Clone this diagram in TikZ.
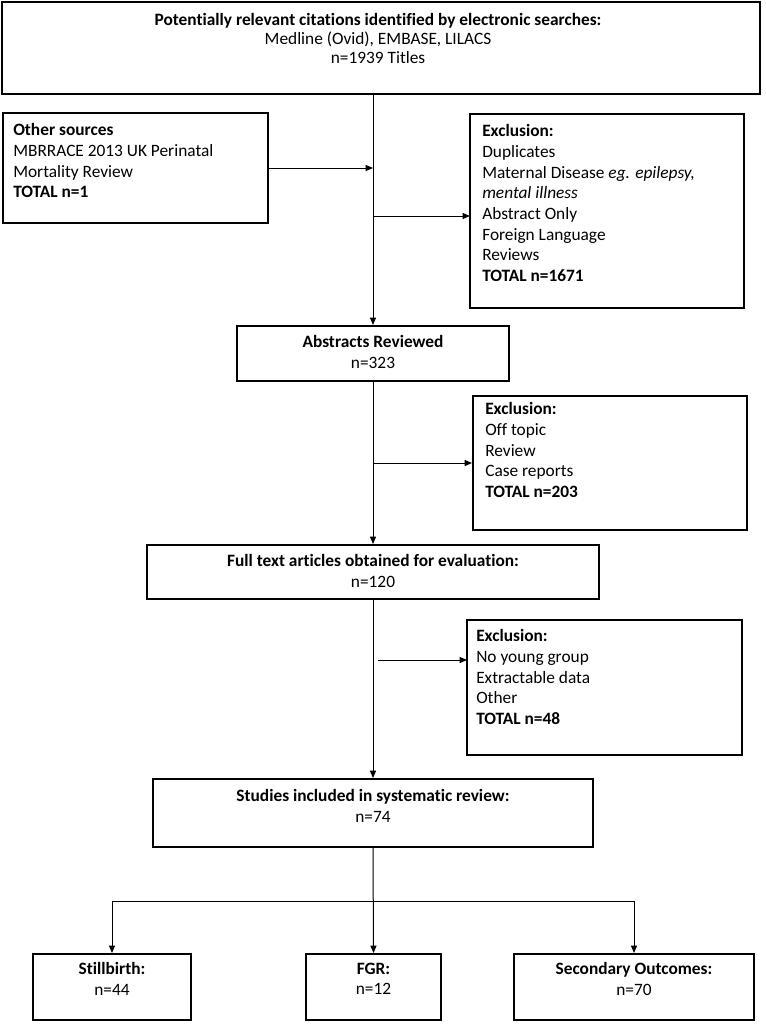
\documentclass[tikz,border=0pt]{standalone}
\usepackage{fontspec}
\setmainfont{Carlito}[Ligatures=NoCommon]
\usetikzlibrary{arrows.meta}
\usetikzlibrary{positioning}
\usetikzlibrary{fit}

\tikzset{
    box/.style={draw, line width=1.5pt, inner sep=0pt},
    txt/.style={inner sep=0pt, anchor=north west, align=left, font=\fontsize{13}{15.5}\selectfont},
    ctxt/.style={txt, anchor=north, align=center},
    link/.style={-{Triangle[length=5.5pt, width=4.5pt]}, line width=0.75pt},
}

\begin{document}
\begin{tikzpicture}[x=0.75pt, y=-0.75pt]
    \useasboundingbox (0,0) rectangle (766,1035);

    % boxes
    \node[box, fit={(2,2) (760,94)}] (top) {};
    \node[box, fit={(3,113) (268,223)}] (other) {};
    \node[box, fit={(470,114) (744,308)}] (exa) {};
    \node[box, fit={(237,326) (509,381)}] (abst) {};
    \node[box, fit={(473,396) (747,530)}] (exb) {};
    \node[box, fit={(147,545) (599,599)}] (full) {};
    \node[box, fit={(467,620) (742,755)}] (exc) {};
    \node[box, fit={(153,779) (593,847)}] (incl) {};
    \node[box, fit={(33,954) (191,1020)}] (still) {};
    \node[box, fit={(306,954) (441,1020)}] (fgr) {};
    \node[box, fit={(514,954) (754,1020)}] (second) {};

    % texts
    \node[ctxt, font=\fontsize{13}{14.2}\selectfont] (topT) at (378,13.5) {\textbf{Potentially relevant citations identified by electronic searches:}\\Medline (Ovid), EMBASE, LILACS\\n=1939 Titles};
    \node[txt] (otherT) at (13,123.5) {\textbf{Other sources}\\MBRRACE 2013 UK Perinatal\\Mortality Review\\\textbf{TOTAL n=1}};
    \node[txt] (exaT) at (482,124.5) {\textbf{Exclusion:}\\Duplicates\\Maternal Disease \textit{eg. epilepsy,}\\\textit{mental illness}\\Abstract Only\\Foreign Language\\Reviews\\\textbf{TOTAL n=1671}};
    \node[ctxt] (abstT) at (373,335.5) {\textbf{Abstracts Reviewed}\\n=323};
    \node[txt] (exbT) at (485,402.5) {\textbf{Exclusion:}\\Off topic\\Review\\Case reports\\\textbf{TOTAL n=203}};
    \node[ctxt] (fullT) at (373,554.5) {\textbf{Full text articles obtained for evaluation:}\\n=120};
    \node[txt] (excT) at (476,629.5) {\textbf{Exclusion:}\\No young group\\Extractable data\\Other\\\textbf{TOTAL n=48}};
    \node[ctxt] (inclT) at (373,789.5) {\textbf{Studies included in systematic review:}\\n=74};
    \node[ctxt] (stillT) at (112,962.5) {\textbf{Stillbirth:}\\n=44};
    \node[ctxt] (fgrT) at (373.5,962.5) {\textbf{FGR:}\\n=12};
    \node[ctxt] (secondT) at (634,962.5) {\textbf{Secondary Outcomes:}\\n=70};

    % connectors
    \coordinate (exaIn) at (470,216);
    \coordinate (excIn) at (467,660);
    \coordinate (split) at (373,901);

    \draw[link] (abst.north |- top.south) -- (abst.north);
    \draw[link] (other.east) -- (other.east -| abst.north);
    \draw[link] (exaIn -| abst.north) -- (exaIn);
    \draw[link] (abst.south) -- (full.north);
    \draw[link] (exb.west -| abst.south) -- (exb.west);
    \draw[link] (full.south) -- (incl.north);
    \draw[link] ([xshift=3.75pt]excIn -| full.south) -- (excIn);
    \draw[link] (incl.south) -- (fgr.north);
    \draw[link] (split) -| (still.north);
    \draw[link] (split) -| (second.north);
\end{tikzpicture}
\end{document}
